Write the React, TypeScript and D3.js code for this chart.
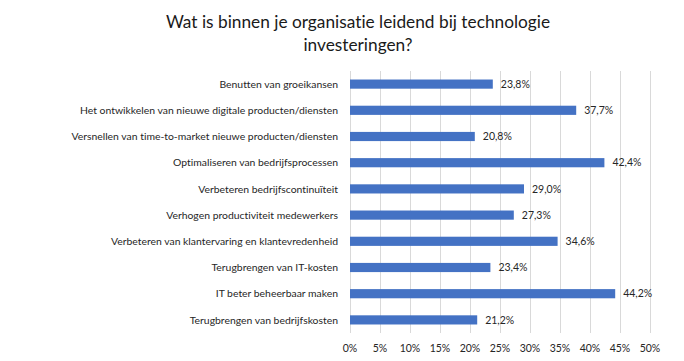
import * as d3 from 'd3';
import { useEffect, useRef } from 'react';

const categories = [
  'Benutten van groeikansen',
  'Het ontwikkelen van nieuwe digitale producten/diensten',
  'Versnellen van time-to-market nieuwe producten/diensten',
  'Optimaliseren van bedrijfsprocessen',
  'Verbeteren bedrijfscontinuïteit',
  'Verhogen productiviteit medewerkers',
  'Verbeteren van klantervaring en klantevredenheid',
  'Terugbrengen van IT-kosten',
  'IT beter beheerbaar maken',
  'Terugbrengen van bedrijfskosten',
];
const values = [23.8, 37.7, 20.8, 42.4, 29.0, 27.3, 34.6, 23.4, 44.2, 21.2];
const ticks = [0, 5, 10, 15, 20, 25, 30, 35, 40, 45, 50];
const titleLines = ['Wat is binnen je organisatie leidend bij technologie', 'investeringen?'];

const App = () => {
  const svgRef = useRef<SVGSVGElement>(null);

  useEffect(() => {
    const width = 684;
    const height = 361;
    const font = 'Lato, "Open Sans", sans-serif';
    const svg = d3.select(svgRef.current)
      .attr('width', width)
      .attr('height', height)
      .style('display', 'block')
      .style('position', 'absolute')
      .style('left', '0px')
      .style('top', '0px')
      .style('font-family', font)
      .style('font-variant-ligatures', 'none');

    svg.append('rect').attr('width', width).attr('height', height).attr('fill', '#fff');

    // title
    svg.append('g')
      .selectAll('text')
      .data(titleLines)
      .enter()
      .append('text')
      .attr('x', 358)
      .attr('y', (d, i) => 28 + i * 23)
      .attr('text-anchor', 'middle')
      .attr('font-size', 17.3)
      .attr('fill', '#1a1a1a')
      .text((d) => d);

    const x = d3.scaleLinear().domain([0, 50]).range([350, 650]);
    const y = d3.scaleBand().domain(categories).range([71, 333]).paddingInner(0.65).paddingOuter(0.325);

    // gridlines
    svg.append('g')
      .selectAll('line')
      .data(ticks)
      .enter()
      .append('line')
      .attr('x1', (d) => x(d) + 0.5)
      .attr('x2', (d) => x(d) + 0.5)
      .attr('y1', 71)
      .attr('y2', 333)
      .attr('stroke', '#d9d9d9')
      .attr('stroke-width', 1);

    // tick labels
    svg.append('g')
      .selectAll('text')
      .data(ticks)
      .enter()
      .append('text')
      .attr('x', (d) => x(d))
      .attr('y', 352)
      .attr('text-anchor', 'middle')
      .attr('font-size', 10.5)
      .attr('fill', '#262626')
      .text((d) => `${d}%`);

    // bars
    svg.append('g')
      .selectAll('rect')
      .data(values)
      .enter()
      .append('rect')
      .attr('x', x(0))
      .attr('y', (d, i) => y(categories[i]))
      .attr('width', (d) => x(d) - x(0))
      .attr('height', y.bandwidth())
      .attr('fill', '#4472c4');

    // category labels
    svg.append('g')
      .selectAll('text')
      .data(categories)
      .enter()
      .append('text')
      .attr('x', 338)
      .attr('y', (d) => y(d) + y.bandwidth() / 2)
      .attr('dy', '0.35em')
      .attr('text-anchor', 'end')
      .attr('font-size', 10.4)
      .attr('fill', '#262626')
      .text((d) => d);

    // value labels
    svg.append('g')
      .selectAll('text')
      .data(values)
      .enter()
      .append('text')
      .attr('x', (d) => x(d) + 8)
      .attr('y', (d, i) => y(categories[i]) + y.bandwidth() / 2)
      .attr('dy', '0.35em')
      .attr('font-size', 10.5)
      .attr('fill', '#262626')
      .text((d) => `${d.toFixed(1).replace('.', ',')}%`);

    return () => {
      svg.selectAll('*').remove();
    };
  }, []);

  return <svg ref={svgRef} />;
};

export default App;
